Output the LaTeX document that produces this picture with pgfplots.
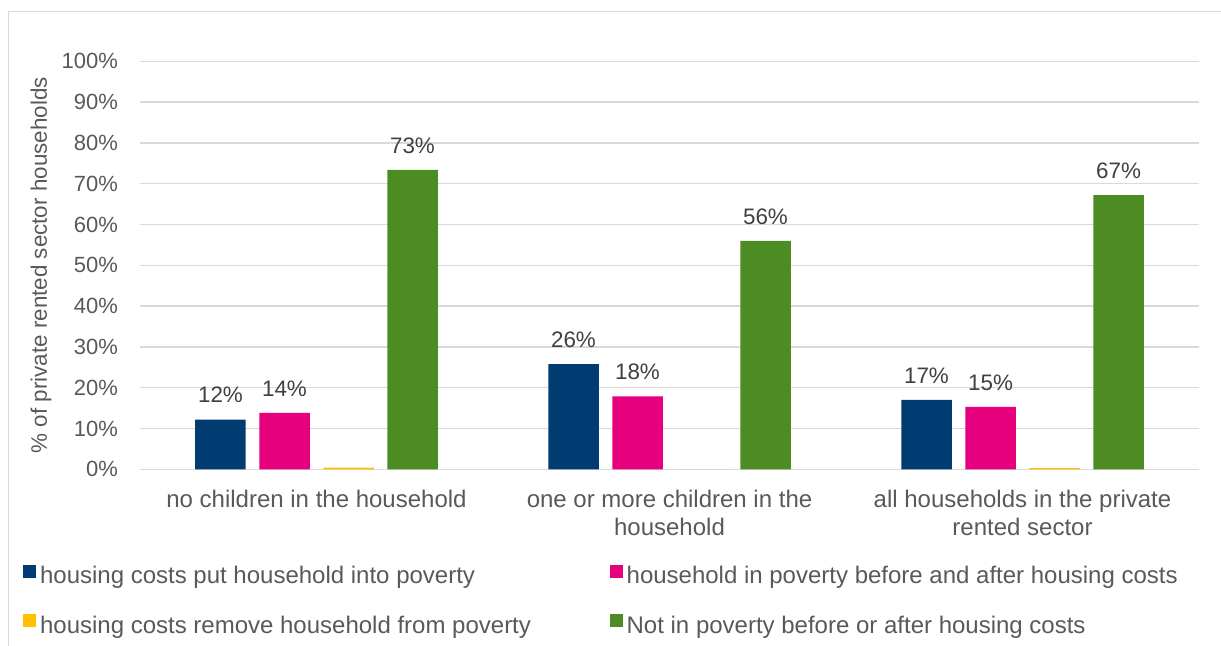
\documentclass[border=0pt]{standalone}
\usepackage{pgfplots}
\pgfplotsset{compat=1.18}
\usepackage{fontspec}
\setmainfont{Liberation Sans}
\definecolor{cblue}{HTML}{003C71}
\definecolor{cpink}{HTML}{E6007E}
\definecolor{cyellow}{HTML}{FFC000}
\definecolor{cgreen}{HTML}{4C8C22}
\definecolor{cgrid}{HTML}{D9D9D9}
\definecolor{ctext}{HTML}{595959}
\definecolor{clabel}{HTML}{404040}
\begin{document}
\fontsize{12}{14}\selectfont
\begin{tikzpicture}
\useasboundingbox (0,0) rectangle (610.5pt,-323pt);
\draw[cgrid, line width=0.75pt] (4.15pt,-323pt) -- (4.15pt,-5.85pt) -- (610.5pt,-5.85pt);
\begin{axis}[
  at={(70pt,-234.65pt)}, anchor=south west,
  scale only axis, width=529.5pt, height=204pt,
  ybar, bar width=25.25pt,
  xmin=-0.5, xmax=2.5, ymin=0, ymax=100,
  ytick={0,10,...,100},
  xtick={0,1,2},
  xticklabels={no children in the household, {one or more children in the\\household}, {all households in the private\\rented sector}},
  /pgf/number format/assume math mode=true,
  yticklabel={\pgfmathprintnumber{\tick}\%},
  yticklabel style={anchor=east, inner sep=0pt, xshift=-10.85pt, text=ctext, font=\fontsize{11}{13}\selectfont},
  xticklabel style={anchor=north, inner sep=0pt, yshift=-10pt, align=center, text=ctext},
  axis line style={draw=none},
  major tick length=0pt,
  tick style={draw=none},
  ymajorgrids,
  grid style={cgrid, line width=0.75pt},
  every axis y label/.style={at={(axis description cs:-0.0935,0.5)}, anchor=center, rotate=90, text=ctext, font=\fontsize{11.2}{13}\selectfont},
  ylabel={\% of private rented sector households},
  legend columns=2,
  legend cell align=left,
  legend image code/.code={\fill[#1,draw=none] (0pt,0pt) rectangle (6.5pt,6.4pt);},
  legend style={at={(axis description cs:-0.1108,-0.2336)}, anchor=north west, draw=none, fill=none, inner sep=0pt,
    nodes={inner sep=0pt, text height=9pt, text depth=3pt, text=ctext},
    row sep=12.3pt,
    /tikz/every odd column/.append style={column sep=2pt}},
  every node near coord/.append style={anchor=south, inner sep=0pt, yshift=8pt, text=clabel, font=\fontsize{11.2}{13}\selectfont},
]
\addplot[fill=cblue, draw=none, bar shift=-48pt, nodes near coords={\pgfmathprintnumber[fixed,precision=0]{\pgfplotspointmeta}\%}] coordinates {(0,12.2) (1,25.8) (2,17.0)};
\addlegendentry{\makebox[284.8pt][l]{housing costs put household into poverty}}
\addplot[fill=cpink, draw=none, bar shift=-16pt, nodes near coords={\pgfmathprintnumber[fixed,precision=0]{\pgfplotspointmeta}\%}] coordinates {(0,13.8) (1,17.9) (2,15.3)};
\addlegendentry{household in poverty before and after housing costs}
\addplot[fill=cyellow, draw=none, bar shift=16pt] coordinates {(0,0.4) (1,0) (2,0.3)};
\addlegendentry{\makebox[284.8pt][l]{housing costs remove household from poverty}}
\addplot[fill=cgreen, draw=none, bar shift=48pt, nodes near coords={\pgfmathprintnumber[fixed,precision=0]{\pgfplotspointmeta}\%}] coordinates {(0,73.4) (1,56.0) (2,67.2)};
\addlegendentry{Not in poverty before or after housing costs}
\end{axis}
\end{tikzpicture}
\end{document}
